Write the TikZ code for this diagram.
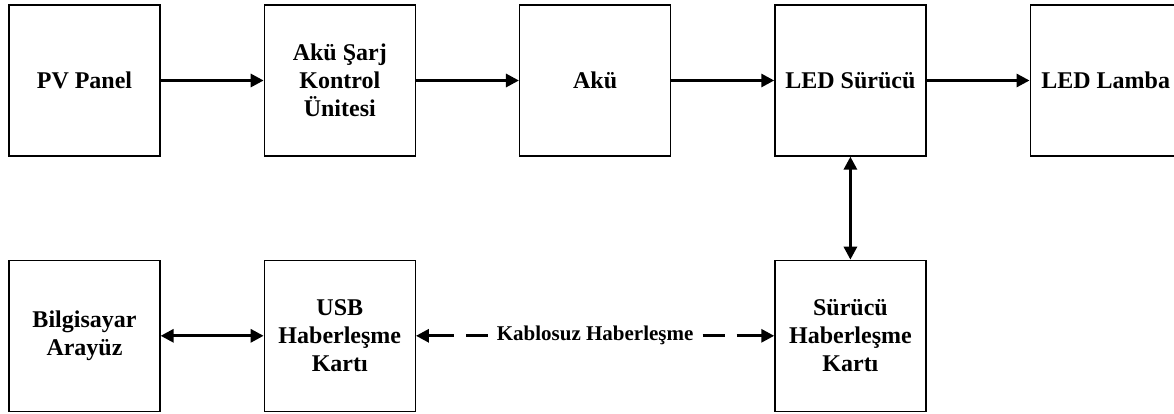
\documentclass[tikz,border=0pt]{standalone}
\usepackage{fontspec}
\setmainfont{Liberation Serif}
\usetikzlibrary{positioning}
\usetikzlibrary{arrows.meta}
\begin{document}
\begin{tikzpicture}[x=1pt, y=-1pt, blok/.style={draw, line width=1.3pt, minimum width=151pt, minimum height=151pt, inner sep=0pt, align=center, font=\bfseries\fontsize{24}{28}\selectfont}, ok/.style={line width=3pt, -{Triangle[length=13pt, width=13pt]}}, iki/.style={line width=3pt, {Triangle[length=13pt, width=13pt]}-{Triangle[length=13pt, width=13pt]}}]
            \useasboundingbox (0,0) rectangle (1174,414);
            \node[blok] (pv) at (84.5,80.5) {PV Panel};
            \node[blok, right = 103pt of pv] (sarj) {Akü Şarj\\Kontrol\\Ünitesi};
            \node[blok, right = 103pt of sarj] (aku) {Akü};
            \node[blok, right = 103pt of aku] (surucu) {LED Sürücü};
            \node[blok, right = 103pt of surucu] (lamba) {LED Lamba};
            \node[blok, below = 103pt of pv] (pc) {Bilgisayar\\Arayüz};
            \node[blok, right = 103pt of pc] (usb) {USB\\Haberleşme\\Kartı};
            \node[blok, below = 103pt of surucu] (surhab) {Sürücü\\Haberleşme\\Kartı};
            \path (usb) -- node[fill=white, inner sep=9pt, font=\bfseries\fontsize{21}{24}\selectfont] (kablo) {Kablosuz Haberleşme} (surhab);

            \draw[ok] (pv) -- (sarj);
            \draw[ok] (sarj) -- (aku);
            \draw[ok] (aku) -- (surucu);
            \draw[ok] (surucu) -- (lamba);
            \draw[iki] (surucu) -- (surhab);
            \draw[iki] (pc) -- (usb);
            \draw[ok, dash pattern=on 22pt off 12pt on 80pt off 0pt] (kablo) -- (usb);
            \draw[ok, dash pattern=on 22pt off 12pt on 80pt off 0pt] (kablo) -- (surhab);
        \end{tikzpicture}
\end{document}
